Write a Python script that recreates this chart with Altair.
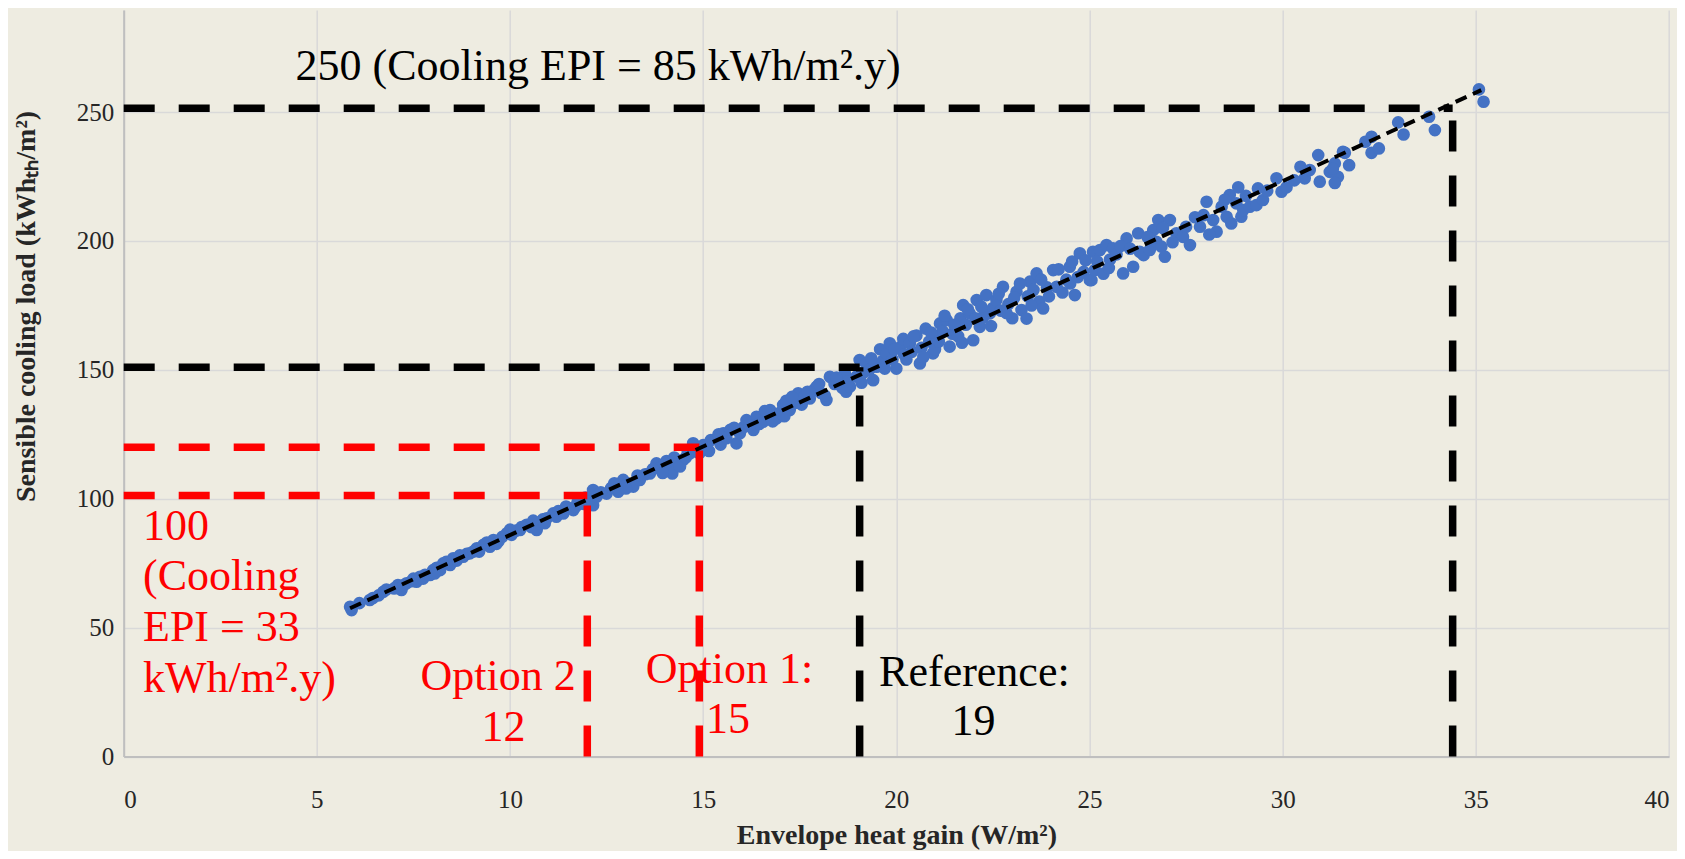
import altair as alt
import pandas as pd

# ---------------- data ----------------
pts_x = [
    5.86, 5.90, 6.37, 6.45, 6.72, 6.80, 7.10, 7.19, 7.32, 7.45, 7.58, 7.67, 7.80, 7.93, 8.01, 8.10,
    8.19, 8.27, 8.45, 8.53, 8.62, 8.79, 8.88, 8.96, 9.05, 9.14, 9.31, 9.48, 9.57, 9.70, 9.80, 9.92,
    10.04, 10.15, 10.26, 10.43, 10.55, 10.69, 10.77, 10.85, 10.95, 11.12, 11.25, 11.38, 11.50, 11.64,
    11.75, 11.81, 11.95, 12.05, 12.15, 12.15, 12.24,
    12.50, 12.62, 12.80, 12.93, 13.05, 13.19, 13.36, 13.50, 13.62, 13.79, 13.90, 14.05, 14.14, 14.20,
    14.31, 14.48, 14.60, 14.66, 14.74, 14.90, 15.00, 15.09, 15.20, 15.35, 15.45, 15.52, 15.70, 15.86,
    15.95, 16.05, 16.12, 16.30, 16.38, 16.45, 16.55, 16.65, 16.73, 16.90, 17.00, 17.07, 17.15, 17.24,
    17.35, 17.46, 17.60, 17.76, 17.85, 17.93, 18.05, 18.19, 18.28, 18.40, 18.55, 18.60, 18.67, 18.70,
    18.80,
    18.97, 19.05, 19.15, 19.23, 19.30, 19.40, 19.49, 19.58, 19.65, 19.75, 19.83, 19.90, 20.00, 20.09,
    20.18, 20.26, 20.35, 20.40, 20.52, 20.61, 20.65, 20.76, 20.85, 20.95, 21.00, 21.04, 21.13, 21.20,
    21.30, 21.38, 21.45, 21.60, 21.66, 21.73, 21.80, 21.90, 21.99, 22.08, 22.16, 22.25, 22.33, 22.42,
    22.50, 22.59, 22.70, 22.76, 22.90, 23.00, 23.11, 23.24, 23.37, 23.40, 23.46, 23.55, 23.63, 23.70,
    23.80, 23.90, 24.06, 24.15, 24.30, 24.40, 24.49, 24.62, 24.75, 24.85, 25.01, 25.09,
    25.05, 25.14, 25.27, 25.36, 25.44, 25.53, 25.61, 25.70, 25.87, 25.96, 26.13, 26.26, 26.30, 26.40,
    26.56, 26.65, 26.73, 26.78, 26.86, 26.95, 27.08, 27.25, 27.42, 27.60, 27.73, 27.86, 28.03, 28.20,
    28.29, 28.42, 28.55, 28.63, 28.67, 28.80, 28.85, 28.93, 28.98, 29.15, 29.32, 29.36, 29.49, 29.84,
    29.97, 30.10, 30.46, 30.57, 30.92, 30.96, 31.22, 31.35, 31.43, 31.30, 31.35,
    31.56, 31.61, 31.72, 32.14, 32.30, 32.30, 32.49, 32.99, 33.13, 33.79, 33.94, 35.08, 35.20,
    # extra points filling the dense band
    6.10, 6.60, 7.00, 7.25, 7.50, 7.75, 8.05, 8.35, 8.70, 9.20, 9.40, 9.65, 10.00, 10.30, 10.60,
    10.90, 11.20, 11.45, 11.70, 11.90,
    12.35, 12.70, 13.00, 13.30, 13.70, 13.95, 14.25, 14.40, 14.55, 14.80, 15.15, 15.40, 15.60, 15.80,
    16.20, 16.60, 16.80, 17.10, 17.30, 17.55, 17.70, 18.00, 18.15, 18.45, 18.75,
    19.10, 19.35, 19.70, 19.95, 20.20, 20.45, 20.70, 20.90, 21.10, 21.25, 21.50, 21.70, 21.85, 22.05,
    22.20, 22.45, 22.65, 22.85, 23.05, 23.20, 23.50, 23.75, 23.95, 24.20, 24.50, 24.70, 24.90, 24.55,
    25.20, 25.50, 25.80, 26.05, 26.50, 26.90, 27.15, 27.50, 27.95, 28.10, 28.50, 29.05, 29.60, 30.30,
    30.70,
]
pts_y = [
    58.1, 56.8, 60.7, 61.5, 63.9, 64.8, 66.5, 64.6, 67.2, 68.0, 67.8, 69.7, 70.5, 70.4, 72.3, 73.2,
    72.3, 74.9, 74.3, 76.9, 76.0, 77.5, 78.6, 78.8, 79.5, 80.8, 82.1, 81.4, 84.0, 83.5, 85.2, 86.6,
    86.0, 87.6, 87.9, 89.9, 89.0, 87.9, 90.5, 92.0, 92.4, 94.3, 95.2, 94.3, 96.5, 95.6,
    98.8, 98.2, 100.4, 99.0, 97.5, 103.4, 100.8,
    102.0, 104.2, 102.7, 107.3, 106.0, 104.7, 107.3, 109.5, 109.8, 113.7, 112.0, 114.6, 111.1, 109.8,
    113.7, 115.0, 118.2, 117.6, 121.5, 117.6, 120.8, 120.2, 122.8, 123.4, 121.0, 125.4, 126.7, 121.5,
    125.4, 127.8, 130.5, 126.7, 131.8, 129.0, 129.9, 132.5, 134.4, 131.2, 133.5, 136.4, 138.0, 134.4,
    137.0, 140.9, 139.2, 138.9, 142.0, 143.4, 141.0, 138.3, 147.3, 144.5, 146.0, 143.0, 148.6, 141.5,
    143.5,
    147.4, 153.8, 149.0, 152.5, 150.0, 146.0, 151.2, 158.0, 153.5, 156.4, 160.3, 154.0, 150.5, 158.7,
    162.0, 154.0, 160.3, 157.0, 163.3, 152.5, 158.5, 166.0, 161.0, 156.4, 158.0, 163.0, 168.0, 165.0,
    169.3, 159.0, 164.0, 163.0, 170.0, 175.1, 167.5, 171.9, 161.5, 177.1, 166.7, 170.5, 179.0, 171.9,
    174.0, 177.1, 173.0, 182.2, 175.5, 170.0, 180.3, 173.2, 169.9, 178.5, 184.2, 181.0, 187.4, 176.5,
    173.8, 182.0, 188.7, 182.2, 180.0, 185.0, 190.0, 179.0, 195.2, 188.0, 184.8, 195.8,
    184.8, 188.7, 196.5, 187.3, 198.4, 192.8, 197.1, 194.8, 187.4, 201.0, 190.0, 203.0, 195.8, 194.5,
    196.5, 204.2, 199.7, 208.1, 197.8, 193.9, 208.1, 203.0, 201.6, 198.4, 209.2, 205.5, 215.2, 208.1,
    203.6, 213.3, 209.4, 217.8, 206.8, 214.6, 220.8, 209.4, 212.0, 213.3, 213.9, 220.4, 215.9, 224.3,
    219.1, 220.8, 228.8, 224.3, 233.3, 223.0, 226.8, 230.1, 224.9, 228.0, 222.5,
    234.6, 234.2, 229.4, 238.5, 240.4, 234.2, 235.9, 246.0, 241.3, 248.2, 243.0, 258.8, 254.0,
    # extra points filling the dense band
    59.5, 62.5, 65.2, 66.5, 69.0, 69.0, 71.0, 75.5, 78.0, 79.5, 83.0, 82.5, 88.0, 89.0, 91.5,
    90.5, 93.0, 97.0, 97.0, 98.0,
    102.5, 106.0, 104.0, 109.0, 111.5, 110.0, 116.0, 112.5, 116.0, 119.5, 118.5, 125.0, 123.5, 127.5,
    128.5, 134.0, 130.0, 132.0, 139.5, 136.5, 141.5, 144.5, 140.0, 147.0, 145.5,
    145.0, 154.5, 150.5, 158.0, 156.0, 163.0, 155.0, 164.5, 161.0, 171.0, 167.5, 160.5, 173.5, 170.0,
    174.5, 167.0, 179.5, 172.0, 178.0, 183.5, 175.0, 185.0, 178.5, 189.0, 183.5, 186.0, 192.5, 192.0,
    192.0, 189.5, 198.0, 197.0, 201.5, 205.0, 199.5, 205.5, 210.0, 202.5, 216.0, 217.5, 219.5, 223.5,
    227.5,
]

# fitted trend line end points
trend_x = [5.86, 35.14]
trend_y = [57.5, 258.5]

# guide lines: a horizontal one from the y axis and a vertical one up from the x axis
guide_x = [34.4, 19.05, 14.9, 12.0]
guide_y = [251.5, 151.0, 120.0, 101.3]
guide_color = ["#000000", "#000000", "#FF0000", "#FF0000"]

# annotation texts
left_text = ["100", "(Cooling", "EPI = 33", "kWh/m\u00b2.y)"]
left_x = [0.5, 0.5, 0.5, 0.5]
left_y = [89.2, 69.6, 50.0, 30.1]
left_color = ["#FF0000"] * 4

center_text = ["250 (Cooling EPI = 85 kWh/m\u00b2.y)", "Option 2", "12", "Option 1:", "15",
               "Reference:", "19"]
center_x = [12.28, 9.69, 9.83, 15.68, 15.64, 22.02, 22.0]
center_y = [267.6, 30.8, 11.2, 33.7, 14.2, 32.5, 13.4]
center_color = ["#000000", "#FF0000", "#FF0000", "#FF0000", "#FF0000", "#000000", "#000000"]

x_ticks = [0, 5, 10, 15, 20, 25, 30, 35, 40]
y_ticks = [0, 50, 100, 150, 200, 250]

# ---------------- tables ----------------
pts = pd.DataFrame({"x": pts_x, "y": pts_y})
trend = pd.DataFrame({"x": trend_x, "y": trend_y})
rows = []
for i, (gx, gy, gc) in enumerate(zip(guide_x, guide_y, guide_color)):
    rows.append({"id": f"h{i}", "o": 0, "x": 0.0, "y": gy, "c": gc})
    rows.append({"id": f"h{i}", "o": 1, "x": gx, "y": gy, "c": gc})
    rows.append({"id": f"v{i}", "o": 0, "x": gx, "y": 0.0, "c": gc})
    rows.append({"id": f"v{i}", "o": 1, "x": gx, "y": gy, "c": gc})
guides = pd.DataFrame(rows)
ltext = pd.DataFrame({"x": left_x, "y": left_y, "t": left_text, "c": left_color})
ctext = pd.DataFrame({"x": center_x, "y": center_y, "t": center_text, "c": center_color})

FONT = "Liberation Serif"
TXT = 44
xs = alt.Scale(domain=[0, 40], nice=False, zero=False)
ys = alt.Scale(domain=[0, 289.6], nice=False, zero=False)

x_axis = alt.Axis(values=x_ticks, title="Envelope heat gain (W/m\u00b2)", grid=True,
                  gridColor="#D9D9D9", gridWidth=1.5, domainColor="#BFBFBF", domainWidth=2,
                  ticks=False, labelFont=FONT, labelFontSize=25, labelColor="#262626",
                  labelPadding=31, titleFont=FONT, titleFontSize=28, titleFontWeight="bold",
                  titleColor="#262626", titleY=79, titleBaseline="middle")
y_axis = alt.Axis(values=y_ticks, title="Sensible cooling load (kWh\u209c\u2095/m\u00b2)", grid=True,
                  gridColor="#D9D9D9", gridWidth=1.5, domainColor="#BFBFBF", domainWidth=2,
                  ticks=False, labelFont=FONT, labelFontSize=25, labelColor="#262626",
                  labelPadding=10, titleFont=FONT, titleFontSize=28, titleFontWeight="bold",
                  titleColor="#262626", titleX=-97, titleY=296, titleAngle=270,
                  titleAlign="center", titleBaseline="middle")

points = alt.Chart(pts).mark_circle(size=160, color="#4472C4", opacity=1).encode(
    x=alt.X("x:Q", scale=xs, axis=x_axis),
    y=alt.Y("y:Q", scale=ys, axis=y_axis),
)

guide_lines = alt.Chart(guides).mark_line(strokeWidth=7.5, strokeDash=[31, 24],
                                          strokeCap="butt", strokeJoin="miter").encode(
    x=alt.X("x:Q", scale=xs),
    y=alt.Y("y:Q", scale=ys),
    color=alt.Color("c:N", scale=None),
    detail="id:N",
    order="o:Q",
)

trend_line = alt.Chart(trend).mark_line(color="#000000", strokeWidth=4, strokeDash=[12, 7],
                                        strokeCap="butt").encode(
    x=alt.X("x:Q", scale=xs),
    y=alt.Y("y:Q", scale=ys),
)

left_labels = alt.Chart(ltext).mark_text(font=FONT, fontSize=TXT, align="left",
                                         baseline="middle").encode(
    x=alt.X("x:Q", scale=xs), y=alt.Y("y:Q", scale=ys), text="t:N",
    color=alt.Color("c:N", scale=None),
)
center_labels = alt.Chart(ctext).mark_text(font=FONT, fontSize=TXT, align="center",
                                           baseline="middle").encode(
    x=alt.X("x:Q", scale=xs), y=alt.Y("y:Q", scale=ys), text="t:N",
    color=alt.Color("c:N", scale=None),
)

chart = alt.layer(points, guide_lines, trend_line, left_labels, center_labels).properties(
    width=1545.3,
    height=746.5,
    autosize=alt.AutoSizeParams(type="none"),
    padding={"left": 115.7, "top": 2, "right": 8, "bottom": 94.5},
    background="#EEECE1",
).configure_view(stroke=None)

chart.save("out.html", embed_options={"renderer": "svg", "actions": False})
